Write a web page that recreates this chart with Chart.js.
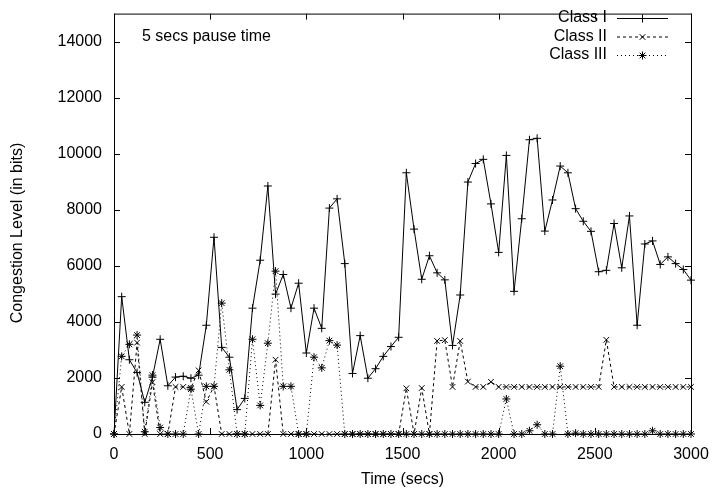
<!DOCTYPE html>
<html>
<head>
<meta charset="utf-8">
<script src="https://cdn.jsdelivr.net/npm/chart.js@4.4.0/dist/chart.umd.min.js"></script>
<style>
  html, body { margin: 0; padding: 0; background: #fff; }
  canvas { display: block; }
</style>
</head>
<body>
<canvas id="chart" width="714" height="490"></canvas>
<script>
// time axis (secs)
const times = [0, 40, 80, 120, 160, 200, 240, 280, 320, 360, 400, 440, 480, 520, 560, 600, 640, 680, 720, 760,
  800, 840, 880, 920, 960, 1000, 1040, 1080, 1120, 1160, 1200, 1240, 1280, 1320, 1360, 1400, 1440, 1480, 1520, 1560,
  1600, 1640, 1680, 1720, 1760, 1800, 1840, 1880, 1920, 1960, 2000, 2040, 2080, 2120, 2160, 2200, 2240, 2280, 2320, 2360,
  2400, 2440, 2480, 2520, 2560, 2600, 2640, 2680, 2720, 2760, 2800, 2840, 2880, 2920, 2960, 3000]

// congestion level (bits)
const classI = [0, 4900, 2650, 2190, 1130, 2030, 3380, 1720, 2030, 2060,
  1990, 2100, 3880, 7020, 3090, 2740, 870, 1270, 4490, 6200,
  8850, 4990, 5690, 4490, 5380, 2890, 4490, 3770, 8060, 8390,
  6080, 2160, 3510, 1990, 2330, 2770, 3120, 3450, 9320, 7310,
  5520, 6360, 5750, 5500, 3160, 4960, 8990, 9650, 9800, 8210,
  6480, 9940, 5090, 7680, 10500, 10550, 7240, 8350, 9560, 9320,
  8040, 7590, 7230, 5790, 5840, 7510, 5930, 7780, 3880, 6780,
  6890, 6050, 6320, 6080, 5870, 5490]
const classII = [0, 1680, 0, 3260, 0, 1850, 0, 0, 1680, 1680,
  1650, 2270, 1150, 1700, 0, 0, 0, 0, 0, 0,
  0, 2650, 0, 0, 0, 0, 0, 0, 0, 0,
  0, 0, 0, 0, 0, 0, 0, 0, 1630, 0,
  1640, 0, 3320, 3350, 1680, 3320, 1870, 1680, 1680, 1860,
  1680, 1680, 1680, 1680, 1680, 1680, 1680, 1680, 1680, 1680,
  1680, 1680, 1680, 1680, 3360, 1680, 1680, 1680, 1680, 1680,
  1680, 1680, 1680, 1680, 1680, 1680]
const classIII = [0, 2770, 3200, 3530, 80, 2100, 230, 0, 0, 0,
  1600, 0, 1700, 1700, 4670, 2290, 0, 0, 3380, 1020,
  3240, 5810, 1700, 1700, 0, 0, 2740, 2360, 3330, 3170,
  0, 0, 0, 0, 0, 0, 0, 0, 0, 0,
  0, 0, 0, 0, 0, 0, 0, 0, 0, 0,
  0, 1250, 0, 0, 115, 330, 0, 0, 2420, 0,
  30, 0, 0, 0, 0, 0, 0, 0, 0, 0,
  115, 0, 0, 0, 0, 0]

const xTicks = [0, 500, 1000, 1500, 2000, 2500, 3000]
const yTicks = [0, 2000, 4000, 6000, 8000, 10000, 12000, 14000]
const note = '5 secs pause time'
const yTitle = 'Congestion Level (in bits)'

const FONT = 'Liberation Sans, Arial, Helvetica, sans-serif'

let toPoints = (vals) => vals.map((v, i) => ({ x: times[i], y: v }))

let series = [
  { label: 'Class I', data: toPoints(classI), dash: [], point: 'cross' },
  { label: 'Class II', data: toPoints(classII), dash: [3, 3], point: 'crossRot' },
  { label: 'Class III', data: toPoints(classIII), dash: [1, 3], point: 'star' },
]

// gnuplot-like frame: border box, inward ticks on all sides, key, note, y label
const framePlugin = {
  id: 'frame',
  afterDraw(chart) {
    const ctx = chart.ctx
    const a = chart.chartArea
    const xs = chart.scales.x
    const ys = chart.scales.y
    const tl = 6
    ctx.save()
    ctx.strokeStyle = '#000'
    ctx.lineWidth = 1
    ctx.setLineDash([])
    ctx.strokeRect(a.left + 0.5, a.top + 0.5, a.right - a.left, a.bottom - a.top)
    ctx.beginPath()
    xTicks.forEach((t) => {
      let px = Math.round(xs.getPixelForValue(t)) + 0.5
      ctx.moveTo(px, a.bottom); ctx.lineTo(px, a.bottom - tl)
      ctx.moveTo(px, a.top); ctx.lineTo(px, a.top + tl)
    })
    yTicks.forEach((t) => {
      let py = Math.round(ys.getPixelForValue(t)) + 0.5
      ctx.moveTo(a.left, py); ctx.lineTo(a.left + tl, py)
      ctx.moveTo(a.right, py); ctx.lineTo(a.right - tl, py)
    })
    ctx.stroke()

    ctx.fillStyle = '#000'
    ctx.font = '16px ' + FONT
    ctx.textBaseline = 'middle'

    // y label
    ctx.save()
    ctx.translate(18, 233)
    ctx.rotate(-Math.PI / 2)
    ctx.textAlign = 'center'
    ctx.fillText(yTitle, 0, 0)
    ctx.restore()

    // note
    ctx.textAlign = 'left'
    ctx.fillText(note, 142, 37)

    // key
    chart.data.datasets.forEach((ds, i) => {
      let y = 18 + i * 18.5
      ctx.textAlign = 'right'
      ctx.fillText(ds.label, 607, y)
      ctx.beginPath()
      ctx.setLineDash(ds.borderDash)
      ctx.moveTo(617, y + 0.5); ctx.lineTo(668, y + 0.5)
      ctx.stroke()
      ctx.setLineDash([])
      Chart.helpers.drawPoint(ctx, { pointStyle: ds.pointStyle, radius: 4, rotation: 0, borderWidth: 1 }, 642.5, y + 0.5)
    })
    ctx.restore()
  },
}

new Chart(document.getElementById('chart'), {
  type: 'line',
  data: {
    datasets: series.map((s) => ({
      label: s.label,
      data: s.data,
      borderColor: '#000',
      backgroundColor: '#000',
      borderWidth: 1,
      borderDash: s.dash,
      pointStyle: s.point,
      pointRadius: 4,
      pointBorderWidth: 1,
      pointBorderColor: '#000',
      tension: 0,
      fill: false,
      clip: false,
    })),
  },
  options: {
    responsive: false,
    animation: false,
    events: [],
    layout: { padding: { left: 0, right: 23, top: 6, bottom: 0 } },
    plugins: { legend: { display: false }, tooltip: { enabled: false } },
    scales: {
      x: {
        type: 'linear',
        min: 0,
        max: 3000,
        grid: { display: false },
        border: { display: false },
        afterBuildTicks: (s) => { s.ticks = xTicks.map((v) => ({ value: v })) },
        afterFit: (s) => { s.height = 56 },
        ticks: { color: '#000', font: { family: FONT, size: 16 }, padding: 3, maxRotation: 0, autoSkip: false, callback: (v) => String(v) },
        title: { display: true, text: 'Time (secs)', color: '#000', font: { family: FONT, size: 16 }, padding: { top: 0, bottom: 1 } },
      },
      y: {
        min: 0,
        max: 15000,
        grid: { display: false },
        border: { display: false },
        afterBuildTicks: (s) => { s.ticks = yTicks.map((v) => ({ value: v })) },
        afterFit: (s) => { s.width = 114 },
        ticks: { color: '#000', font: { family: FONT, size: 16 }, padding: 4, autoSkip: false, callback: (v) => String(v) },
      },
    },
  },
  plugins: [framePlugin],
})
</script>
</body>
</html>
